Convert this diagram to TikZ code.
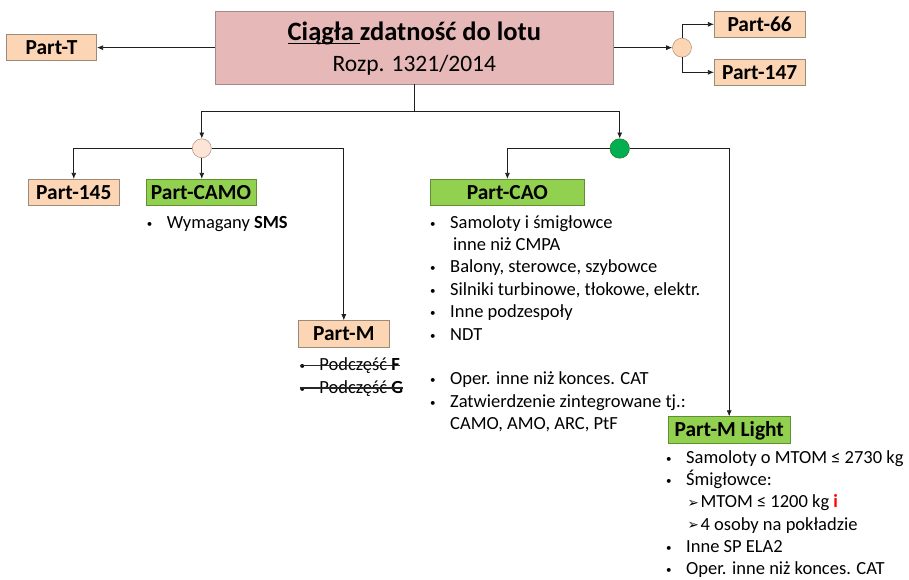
\documentclass[tikz,border=0pt]{standalone}
\usepackage{fontspec}
\setmainfont{Carlito}
\newfontfamily\djv{DejaVu Sans}
\usetikzlibrary{arrows.meta}
\definecolor{peach}{HTML}{FCD5B4}
\definecolor{peachline}{HTML}{9C8A78}
\definecolor{lpeach}{HTML}{FCE4D6}
\definecolor{rose}{HTML}{E6B9B8}
\definecolor{roseline}{HTML}{A08C8C}
\definecolor{lgreen}{HTML}{92D050}
\definecolor{lgreenline}{HTML}{5F8F30}
\definecolor{dgreen}{HTML}{00B050}
\definecolor{dgreenline}{HTML}{2E7D32}
\definecolor{circline}{HTML}{B49A84}
\newcommand\smb{\raisebox{1pt}{\fontsize{11}{11}\selectfont•}}
\newcommand\bl{\llap{\smb\hspace{14.5pt}}}
\newcommand\arw{\hspace{1.5pt}\raisebox{0.5pt}{\djv\fontsize{13.5}{14}\selectfont ➢}\hspace{1.5pt}}
\newcommand\ulbox[1]{\setbox0\hbox{#1}\rlap{\rule[-4.4pt]{\wd0}{1.3pt}}\box0}
\begin{document}
\begin{tikzpicture}[x=1pt,y=-1pt,
  lab/.style={inner sep=0pt, line width=0.75pt, minimum height=26.4pt,
    font=\fontsize{21.4}{25}\selectfont\bfseries, text height=13.7pt, text depth=0pt},
  pbox/.style={lab, draw=peachline, fill=peach},
  gbox/.style={lab, draw=lgreenline, fill=lgreen},
  circ/.style={circle, minimum size=19pt, inner sep=0pt, line width=0.6pt},
  conn/.style={draw=black!88, line width=0.75pt},
  arr/.style={conn, -{Latex[length=6pt,width=5pt]}},
  txt/.style={inner sep=0pt, font=\fontsize{18.5}{22.4}\selectfont},
  strike/.style={draw=black!85, line width=1.1pt}]
\useasboundingbox (0,0) rectangle (909,579);

% main box
\node[draw=roseline, fill=rose, line width=0.75pt, minimum width=398.7pt, minimum height=72.7pt, inner sep=0pt] (main) at (414.35,47.65) {};
\node[anchor=base, inner sep=0pt, font=\fontsize{26.5}{30}\selectfont\bfseries] (title) at (414.35,40) {\ulbox{Ciągła\ }zdatność do lotu};
\node[anchor=base, inner sep=0pt, font=\fontsize{23.5}{28}\selectfont] (sub) at (414.35,71.7) {Rozp. 1321/2014};

% boxes
\node[pbox, minimum width=90.4pt] (partT) at (51.5,47.65) {Part-T};
\node[pbox, minimum width=90.7pt, minimum height=26pt] (p66) at (759.65,24.3) {Part-66};
\node[pbox, minimum width=90.7pt, minimum height=26pt] (p147) at (759.65,72.3) {Part-147};
\node[pbox, minimum width=91pt] (p145) at (73.8,192.5) {Part-145};
\node[gbox, minimum width=110pt] (camo) at (201,192.5) {Part-CAMO};
\node[gbox, minimum width=154.7pt] (cao) at (507.4,192.5) {Part-CAO};
\node[pbox, minimum width=91pt] (pm) at (343.8,333.8) {Part-M};
\node[gbox, minimum width=121.7pt, minimum height=26.6pt] (pml) at (729.2,430) {Part-M Light};

% circles
\node[circ, draw=circline, fill=peach] (c0) at (682,47.65) {};
\node[circ, draw=circline, fill=lpeach] (c1) at (201.8,148.3) {};
\node[circ, draw=dgreenline, fill=dgreen, minimum size=19.4pt] (c2) at (619.7,148.5) {};

% connectors
\path (main.south) ++(0,27.3) coordinate (j);
\draw[arr] (main.west) -- (partT.east);
\draw[arr] (main.east) -- (c0.west);
\draw[arr] (c0.north) |- (p66.west);
\draw[arr] (c0.south) |- (p147.west);
\draw[conn] (main.south) -- (j);
\draw[arr] (j) -| (c1.north);
\draw[arr] (j) -| (c2.north);
\draw[arr] (c1.west) -| (p145.north);
\draw[arr] (c1.south) -- (c1.south |- camo.north);
\draw[arr] (c1.east) -| (pm.north);
\draw[arr] (c2.west) -| (cao.north);
\draw[arr] (c2.east) -| (pml.north);

% texts
\node[txt, anchor=base west] (camol) at (166.7,228) {\bl Wymagany \textbf{SMS}};

\node[txt, anchor=base west] (caol) at (450,228) {\begin{tabular}[t]{@{}l@{}}
\bl Samoloty i śmigłowce\\
\hspace{3pt}inne niż CMPA\\
\bl Balony, sterowce, szybowce\\
\bl Silniki turbinowe, tłokowe, elektr.\\
\bl Inne podzespoły\\
\bl NDT\\
\mbox{}\\
\bl Oper. inne niż konces. CAT\\
\bl Zatwierdzenie zintegrowane tj.:\\
CAMO, AMO, ARC, PtF
\end{tabular}};

\node[txt, anchor=base west, font=\fontsize{18.5}{22.2}\selectfont] (pmll) at (686,463.5) {\begin{tabular}[t]{@{}l@{}}
\bl Samoloty o MTOM ≤ 2730 kg\\
\bl Śmigłowce:\\
\arw MTOM ≤ 1200 kg \textcolor{red}{\textbf{i}}\\
\arw 4 osoby na pokładzie\\
\bl Inne SP ELA2\\
\bl Oper. inne niż konces. CAT
\end{tabular}};

\node[txt, anchor=base west] (pmf) at (299.5,370.5) {\smb\hspace{14.3pt}Podczęść \textbf{F}};
\node[txt, anchor=base west] (pmg) at (299.5,393) {\smb\hspace{14.3pt}Podczęść \textbf{G}};
\draw[strike] ([yshift=5pt]pmf.base west) -- ([yshift=5pt]pmf.base east);
\draw[strike] ([yshift=5pt]pmg.base west) -- ([yshift=5pt]pmg.base east);
\end{tikzpicture}
\end{document}
